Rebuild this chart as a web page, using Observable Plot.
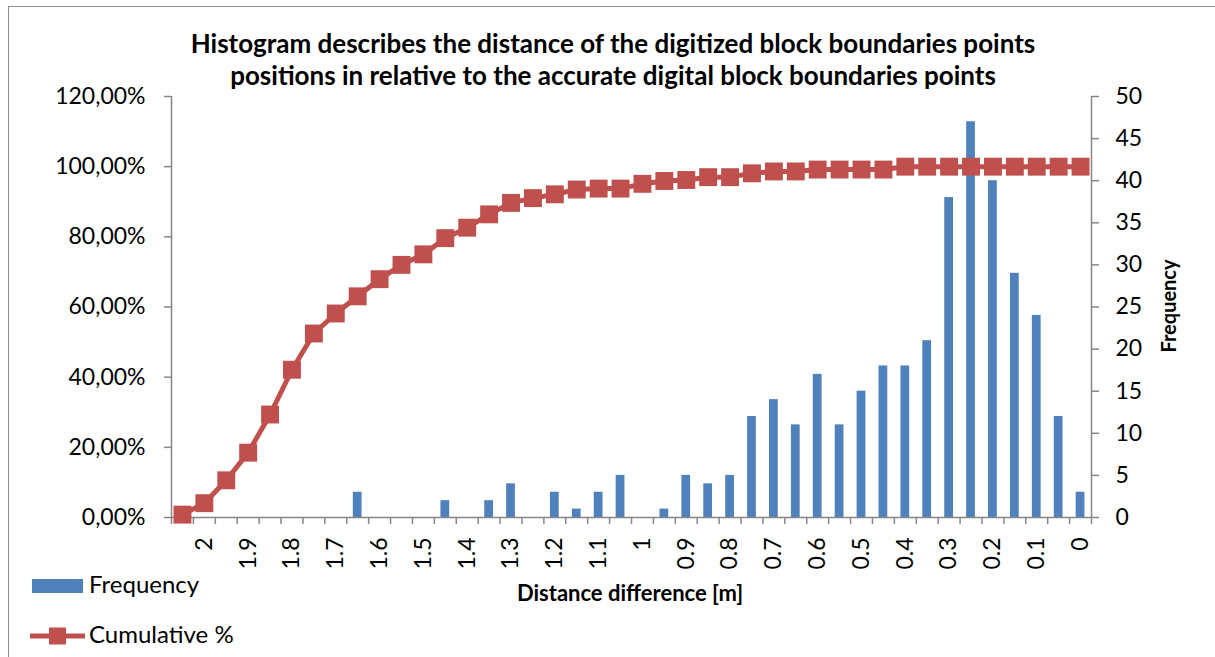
<!DOCTYPE html>
<html>
<head>
<meta charset="utf-8">
<script src="https://cdn.jsdelivr.net/npm/d3@7"></script>
<script src="https://cdn.jsdelivr.net/npm/@observablehq/plot@0.6"></script>
<style>
  html, body { margin: 0; padding: 0; background: #fff; }
  #chart { position: relative; width: 1215px; height: 657px; overflow: hidden; font-family: Lato, "Open Sans", sans-serif; color: #000; }
  #border { position: absolute; left: 8px; top: 6px; width: 1400px; height: 900px; border-left: 1.5px solid #8c8c8c; border-top: 1.5px solid #8c8c8c; }
  .layer { position: absolute; left: 0; top: 0; }
  #title { position: absolute; left: 0; width: 1226px; top: 27px; text-align: center; font-weight: 700; font-size: 26px; line-height: 32px; white-space: nowrap; }
  #xtitle { position: absolute; left: 430px; width: 400px; top: 582px; text-align: center; font-weight: 700; font-size: 22px; line-height: 21px; white-space: nowrap; }
  #ytitle { position: absolute; left: 1068px; width: 200px; top: 296px; text-align: center; font-weight: 700; font-size: 20px; line-height: 20px; transform: rotate(-90deg); white-space: nowrap; }
</style>
</head>
<body>
<div id="chart">
  <div id="border"></div>
  <div id="title"></div>
  <div id="xtitle"></div>
  <div id="ytitle"></div>
  <svg class="layer" id="legend" width="1215" height="657"></svg>
</div>
<script>
// ---- data ----
const categories = ["2.05","2","1.95","1.9","1.85","1.8","1.75","1.7","1.65","1.6","1.55","1.5","1.45","1.4","1.35","1.3","1.25","1.2","1.15","1.1","1.05","1","0.95","0.9","0.85","0.8","0.75","0.7","0.65","0.6","0.55","0.5","0.45","0.4","0.35","0.3","0.25","0.2","0.15","0.1","0.05","0"];
const frequency = [0,0,0,0,0,0,0,0,3,0,0,0,2,0,2,4,0,3,1,3,5,0,1,5,4,5,12,14,11,17,11,15,18,18,21,38,47,40,29,24,12,3];
const cumulativePct = [0.82,4.08,10.60,18.48,29.35,42.12,52.45,58.15,63.04,67.93,72.01,75.00,79.62,82.61,86.41,89.67,91.03,92.12,93.48,93.75,93.75,95.11,95.92,96.20,97.01,97.01,98.10,98.64,98.64,99.18,99.18,99.18,99.18,100,100,100,100,100,100,100,100,100];
const xTickLabels = ["2","1.9","1.8","1.7","1.6","1.5","1.4","1.3","1.2","1.1","1","0.9","0.8","0.7","0.6","0.5","0.4","0.3","0.2","0.1","0"];
const leftTicks = [0,20,40,60,80,100,120];
const rightTicks = [0,5,10,15,20,25,30,35,40,45,50];
const titleLines = ["Histogram describes the distance of the digitized block boundaries points","positions in relative to the accurate digital block boundaries points"];
const xTitle = "Distance difference [m]";
const yRightTitle = "Frequency";
const seriesNames = ["Frequency","Cumulative %"];

// ---- layout ----
const W = 1215, H = 657;
const M = {top: 96, right: 124, bottom: 140, left: 171};
const step = (W - M.left - M.right) / categories.length;
const BLUE = "#4F81BD", RED = "#C0504D", GRAY = "#868686";
const FONT = "Lato, 'Open Sans', sans-serif";

const rows = categories.map((c, i) => ({c, f: frequency[i], p: cumulativePct[i]}));
const xScale = {type: "band", domain: categories, paddingInner: 0.6, paddingOuter: 0.3, label: null};
const common = {
  width: W, height: H,
  marginTop: M.top, marginRight: M.right, marginBottom: M.bottom, marginLeft: M.left,
  style: {fontFamily: FONT, fontSize: "23px", color: "#000", background: "transparent", overflow: "visible"}
};

const barsPlot = Plot.plot({
  ...common,
  x: xScale,
  y: {domain: [0, 50], label: null},
  marks: [
    Plot.barY(rows, {x: "c", y: "f", fill: BLUE}),
    Plot.ruleY([0], {stroke: GRAY, strokeWidth: 1.5}),
    Plot.ruleX([categories[categories.length - 1]], {dx: step / 2, stroke: GRAY, strokeWidth: 1.5}),
    // category boundary ticks under the x axis (no labels)
    Plot.axisX({ticks: categories, tickSize: 7, tickFormat: () => null, dx: -step / 2, stroke: GRAY, strokeWidth: 1.5, label: null}),
    Plot.axisX({ticks: [categories[categories.length - 1]], tickSize: 7, tickFormat: () => null, dx: step / 2, stroke: GRAY, strokeWidth: 1.5, label: null}),
    Plot.axisY({anchor: "right", ticks: rightTicks, tickSize: 7, tickPadding: 17, stroke: GRAY, strokeWidth: 1.5, fill: "#000", label: null}),
    Plot.axisX({ticks: xTickLabels, tickSize: 0, tickRotate: -90, tickPadding: 20, textAnchor: "end", lineAnchor: "middle", fill: "#000", label: null})
  ]
});

const linePlot = Plot.plot({
  ...common,
  x: {...xScale, axis: null},
  y: {domain: [0, 120], label: null},
  marks: [
    Plot.ruleX([categories[0]], {dx: -step / 2, stroke: GRAY, strokeWidth: 1.5}),
    Plot.axisY({anchor: "left", ticks: leftTicks, tickFormat: d => d.toFixed(2).replace(".", ",") + "%", tickSize: 7, tickPadding: 19, stroke: GRAY, strokeWidth: 1.5, fill: "#000", label: null}),
    Plot.line(rows, {x: "c", y: "p", stroke: RED, strokeWidth: 5}),
    Plot.dot(rows, {x: "c", y: "p", symbol: "square", r: 10.1, fill: RED, stroke: "none"})
  ]
});

barsPlot.classList.add("layer");
linePlot.classList.add("layer");
const chart = document.getElementById("chart");
chart.appendChild(barsPlot);
chart.appendChild(linePlot);

document.getElementById("title").innerHTML = titleLines.join("<br>");
document.getElementById("xtitle").textContent = xTitle;
document.getElementById("ytitle").textContent = yRightTitle;

// legend
const leg = d3.select("#legend");
leg.append("rect").attr("x", 32).attr("y", 579).attr("width", 51).attr("height", 14).attr("fill", BLUE);
leg.append("line").attr("x1", 30).attr("x2", 85).attr("y1", 636).attr("y2", 636).attr("stroke", RED).attr("stroke-width", 5);
leg.append("rect").attr("x", 49).attr("y", 627.5).attr("width", 17).attr("height", 17).attr("fill", RED);
leg.append("text").attr("x", 89).attr("y", 593).attr("font-size", 24).attr("font-family", FONT).text(seriesNames[0]);
leg.append("text").attr("x", 89).attr("y", 643).attr("font-size", 24).attr("font-family", FONT).text(seriesNames[1]);
</script>
</body>
</html>
